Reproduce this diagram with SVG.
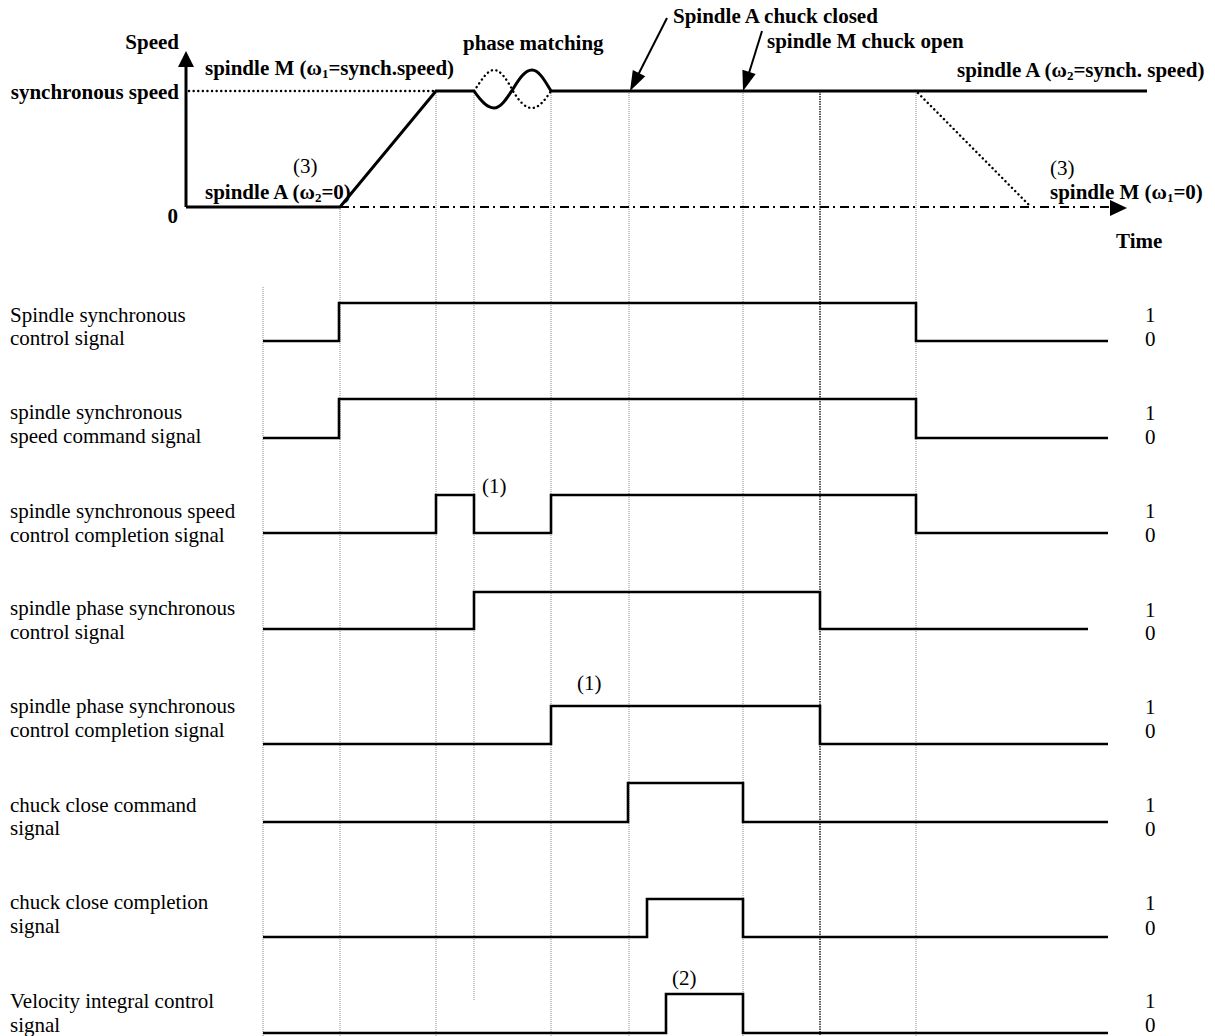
<svg xmlns="http://www.w3.org/2000/svg" width="1215" height="1036" viewBox="0 0 1215 1036">
<style>
text{font-family:"Liberation Serif","Times New Roman",serif;font-size:21px;fill:#000}
.b{font-weight:bold}
.sub{font-size:13px}
.grid{stroke:#8a8a8a;stroke-width:1;stroke-dasharray:1 1;fill:none}
.gridk{stroke:#000;stroke-width:1.3;stroke-dasharray:1.5 1;fill:none}
.sig{stroke:#000;stroke-width:2.6;fill:none}
.spd{stroke:#000;stroke-width:3;fill:none}
.dot{stroke:#000;stroke-width:2.4;fill:none;stroke-dasharray:0.1 4.5;stroke-linecap:round}
.dd{stroke:#000;stroke-width:2;fill:none;stroke-dasharray:9 4 2 5}
.ar{stroke:#000;stroke-width:2;fill:none}
.head{fill:#000}
</style>
<rect width="1215" height="1036" fill="#fff"/>

<g id="gridlines">
<line class="grid" x1="263" y1="287" x2="263" y2="1036"/>
<line class="grid" x1="340" y1="207" x2="340" y2="1036"/>
<line class="grid" x1="436" y1="91" x2="436" y2="1036"/>
<line class="grid" x1="474" y1="91" x2="474" y2="1000"/>
<line class="grid" x1="551" y1="91" x2="551" y2="1036"/>
<line class="grid" x1="629" y1="91" x2="629" y2="1036"/>
<line class="grid" x1="743" y1="91" x2="743" y2="1036"/>
<line class="gridk" x1="820" y1="91" x2="820" y2="1036"/>
<line class="grid" x1="916" y1="91" x2="916" y2="1036"/>
</g>

<g id="speed-graph">
<line x1="186" y1="207" x2="186" y2="64" stroke="#000" stroke-width="3"/>
<path class="head" d="M186 51L178 67L194 67z"/>
<line class="dot" x1="189" y1="91" x2="436" y2="91"/>
<path class="spd" d="M186 207H340L436 91H474C481 101 487 108 494 108C501 108 507 98 513 89C519 79 525 70 532 70C539 70 545 81 551 91H1147"/>
<path class="dot" d="M474 91C481 81 487 70 494 70C501 70 507 80 513 91C519 101 525 108 532 108C539 108 545 100 551 91"/>
<line class="dot" x1="918" y1="93" x2="1030" y2="206"/>
<line class="dd" x1="340" y1="207" x2="1112" y2="207"/>
<path class="head" d="M1127 208L1110 200L1110 216z"/>
<text class="b" x="179" y="49" text-anchor="end">Speed</text>
<text class="b" x="179" y="99" text-anchor="end">synchronous speed</text>
<text class="b" x="178" y="223" text-anchor="end">0</text>
<text class="b" x="205" y="75">spindle M (ω<tspan class="sub" dy="3">1</tspan><tspan dy="-3">=synch.speed)</tspan></text>
<text x="293" y="173">(3)</text>
<text class="b" x="205" y="199">spindle A (ω<tspan class="sub" dy="3">2</tspan><tspan dy="-3">=0)</tspan></text>
<text class="b" x="463" y="50">phase matching</text>
<text class="b" x="673" y="23">Spindle A chuck closed</text>
<text class="b" x="767" y="48">spindle M chuck open</text>
<text class="b" x="957" y="77">spindle A (ω<tspan class="sub" dy="3">2</tspan><tspan dy="-3">=synch. speed)</tspan></text>
<text x="1050" y="175">(3)</text>
<text class="b" x="1050" y="199">spindle M (ω<tspan class="sub" dy="3">1</tspan><tspan dy="-3">=0)</tspan></text>
<text class="b" x="1116" y="248">Time</text>
</g>

<g id="connectors">
<line class="ar" x1="667" y1="18" x2="638" y2="75"/>
<path class="head" d="M630 91L645.3 76.3L632.8 70z"/>
<line class="ar" x1="762" y1="31" x2="749" y2="73"/>
<path class="head" d="M743 91L755.7 74L742.4 69.8z"/>
</g>

<g id="sig1">
<path class="sig" d="M263 341H339V303H916V341H1108"/>
<text x="10" y="322">Spindle synchronous</text><text x="10" y="345">control signal</text>
<text x="1145" y="322">1</text><text x="1145" y="346">0</text>
</g>
<g id="sig2">
<path class="sig" d="M263 438H339V399H916V438H1108"/>
<text x="10" y="419">spindle synchronous</text><text x="10" y="443">speed command signal</text>
<text x="1145" y="420">1</text><text x="1145" y="444">0</text>
</g>
<g id="sig3">
<path class="sig" d="M263 533H436V495H474V533H551V495H916V533H1108"/>
<text x="482" y="493">(1)</text>
<text x="10" y="518">spindle synchronous speed</text><text x="10" y="542">control completion signal</text>
<text x="1145" y="518">1</text><text x="1145" y="542">0</text>
</g>
<g id="sig4">
<path class="sig" d="M263 629H474V592H820V629H1088"/>
<text x="10" y="615">spindle phase synchronous</text><text x="10" y="639">control signal</text>
<text x="1145" y="617">1</text><text x="1145" y="640">0</text>
</g>
<g id="sig5">
<path class="sig" d="M263 744H551V706H820V744H1108"/>
<text x="577" y="690">(1)</text>
<text x="10" y="713">spindle phase synchronous</text><text x="10" y="737">control completion signal</text>
<text x="1145" y="714">1</text><text x="1145" y="738">0</text>
</g>
<g id="sig6">
<path class="sig" d="M263 822H628V783H743V822H1108"/>
<text x="10" y="812">chuck close command</text><text x="10" y="835">signal</text>
<text x="1145" y="812">1</text><text x="1145" y="836">0</text>
</g>
<g id="sig7">
<path class="sig" d="M263 937H647V899H743V937H1108"/>
<text x="10" y="909">chuck close completion</text><text x="10" y="933">signal</text>
<text x="1145" y="910">1</text><text x="1145" y="935">0</text>
</g>
<g id="sig8">
<path class="sig" d="M263 1033H666V994H743V1033H1108"/>
<text x="672" y="985">(2)</text>
<text x="10" y="1008">Velocity integral control</text><text x="10" y="1032">signal</text>
<text x="1145" y="1008">1</text><text x="1145" y="1032">0</text>
</g>
</svg>
